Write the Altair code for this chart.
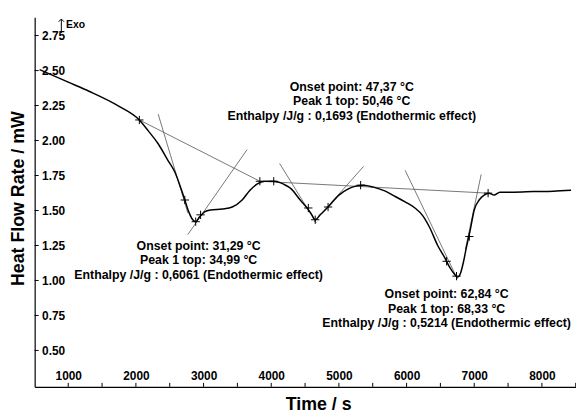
import altair as alt
import pandas as pd

# ---- DSC curve (Time / s, Heat flow / mW) ----
time_s = [577, 1000, 1307, 1745, 2051, 2183, 2329, 2475, 2577, 2664, 2723, 2781, 2840, 2884,
          2942, 3015, 3102, 3278, 3424, 3570, 3686, 3789, 3905, 4037, 4183, 4300, 4416, 4519,
          4592, 4650, 4723, 4840, 5000, 5132, 5249, 5365, 5511, 5687, 5833, 5979, 6124, 6241,
          6343, 6460, 6562, 6636, 6709, 6753, 6797, 6840, 6884, 6942, 7000, 7073, 7146, 7219,
          7292, 7380, 7584, 7876, 8168, 8431]
heat_flow = [2.507, 2.417, 2.352, 2.246, 2.147, 2.069, 1.977, 1.857, 1.773, 1.660, 1.575, 1.490,
             1.434, 1.420, 1.455, 1.490, 1.504, 1.511, 1.525, 1.575, 1.645, 1.688, 1.709, 1.709,
             1.688, 1.653, 1.582, 1.525, 1.476, 1.434, 1.469, 1.525, 1.610, 1.653, 1.674, 1.681,
             1.667, 1.638, 1.600, 1.561, 1.518, 1.462, 1.377, 1.250, 1.165, 1.095, 1.045, 1.024,
             1.052, 1.130, 1.236, 1.363, 1.504, 1.575, 1.610, 1.624, 1.610, 1.631, 1.631, 1.635,
             1.638, 1.645]

# ---- "+" markers of the peak evaluation ----
marker_time = [2051, 2723, 2884, 2956, 3832, 4037, 4548, 4650, 4840, 5321, 6592, 6738, 6928, 7205]
marker_flow = [2.147, 1.575, 1.420, 1.469, 1.709, 1.709, 1.518, 1.434, 1.525, 1.681, 1.137, 1.031, 1.314, 1.624]

# ---- baselines and tangents (start / end points) ----
seg_x1 = [2051, 3832, 2329, 2767, 4124, 4635, 5979, 7103]
seg_y1 = [2.147, 1.709, 2.189, 1.328, 1.836, 1.419, 1.787, 1.758]
seg_x2 = [3832, 7205, 2767, 3643, 4665, 5365, 6752, 6869]
seg_y2 = [1.709, 1.624, 1.483, 1.935, 1.412, 1.815, 1.010, 1.222]

# ---- annotations ----
note_text = ["Onset point: 47,37 °C", "Peak 1 top: 50,46 °C", "Enthalpy /J/g : 0,1693 (Endothermic effect)",
             "Onset point: 31,29 °C", "Peak 1 top: 34,99 °C", "Enthalpy /J/g : 0,6061 (Endothermic effect)",
             "Onset point: 62,84 °C", "Peak 1 top: 68,33 °C", "Enthalpy /J/g : 0,5214 (Endothermic effect)"]
note_x = [5190, 5190, 5190, 2927, 2927, 2927, 6592, 6592, 6592]
note_y = [2.3835, 2.281, 2.1785, 1.2465, 1.144, 1.0415, 0.9005, 0.798, 0.6955]

# ---- "Exo" arrow ----
exo_t = [898]
exo_low = [2.768]
exo_high = [2.868]
exo_label_t = [968]
exo_label_q = [2.825]

x_ticks = [1000, 2000, 3000, 4000, 5000, 6000, 7000, 8000]
x_minor = [1000, 1500, 2000, 2500, 3000, 3500, 4000, 4500, 5000, 5500, 6000, 6500, 7000, 7500, 8000, 8500]
y_ticks = [0.50, 0.75, 1.00, 1.25, 1.50, 1.75, 2.00, 2.25, 2.50, 2.75]

FONT = "Liberation Sans"
W, H = 548, 374

xs = alt.Scale(domain=[504, 8504], nice=False, zero=False)
ys = alt.Scale(domain=[0.24, 2.88], nice=False, zero=False)

curve_df = pd.DataFrame({"t": time_s, "q": heat_flow})
mark_df = pd.DataFrame({"t": marker_time, "q": marker_flow})
seg_df = pd.DataFrame({"t": seg_x1, "q": seg_y1, "t2": seg_x2, "q2": seg_y2})
note_df = pd.DataFrame({"t": note_x, "q": note_y, "txt": note_text})
xt_df = pd.DataFrame({"t": x_minor})
yt_df = pd.DataFrame({"q": y_ticks})
arrow_df = pd.DataFrame({"t": exo_t, "q": exo_low, "q2": exo_high})
exo_df = pd.DataFrame({"t": exo_label_t, "q": exo_label_q, "txt": ["Exo"]})

x_axis = alt.Axis(values=x_ticks, format="d", ticks=False, grid=False,
                  labelFont=FONT, labelFontSize=12, labelFontWeight="bold", labelColor="black",
                  labelPadding=-7, labelBaseline="alphabetic",
                  domainColor="black", domainWidth=1.2,
                  title="Time / s", titleFont=FONT, titleFontSize=18, titleFontWeight="bold",
                  titleColor="black", titleX=287, titleY=23, titleBaseline="alphabetic")
y_axis = alt.Axis(values=y_ticks, format=".2f", ticks=False, grid=False,
                  labelFont=FONT, labelFontSize=12, labelFontWeight="bold", labelColor="black",
                  labelAlign="left", labelBaseline="middle", labelPadding=-7,
                  domainColor="black", domainWidth=1.2,
                  title="Heat Flow Rate / mW", titleFont=FONT, titleFontSize=18,
                  titleFontWeight="bold", titleColor="black", titleX=-16, titleY=183,
                  titleAlign="center", titleBaseline="middle", titleAngle=270)

curve = alt.Chart(curve_df).mark_line(color="black", strokeWidth=1.5, interpolate="monotone").encode(
    x=alt.X("t:Q", scale=xs, axis=x_axis),
    y=alt.Y("q:Q", scale=ys, axis=y_axis),
)

segs = alt.Chart(seg_df).mark_rule(color="#555555", strokeWidth=0.8).encode(
    x=alt.X("t:Q", scale=xs), y=alt.Y("q:Q", scale=ys), x2="t2:Q", y2="q2:Q")

plus = alt.Chart(mark_df).mark_point(shape="M-1,0L1,0M0,-1L0,1", size=70, filled=False,
                                     color="black", strokeWidth=1, opacity=1).encode(
    x=alt.X("t:Q", scale=xs), y=alt.Y("q:Q", scale=ys))

notes = alt.Chart(note_df).mark_text(font=FONT, fontSize=12.5, fontWeight="bold", color="black",
                                     align="center", baseline="middle").encode(
    x=alt.X("t:Q", scale=xs), y=alt.Y("q:Q", scale=ys), text="txt:N")

arrow_shaft = alt.Chart(arrow_df).mark_rule(color="black", strokeWidth=1).encode(
    x=alt.X("t:Q", scale=xs), y=alt.Y("q:Q", scale=ys), y2="q2:Q")
arrow_head = alt.Chart(arrow_df).mark_point(shape="M-1,1L0,0L1,1", size=30, filled=False,
                                            color="black", strokeWidth=1, opacity=1).encode(
    x=alt.X("t:Q", scale=xs), y=alt.Y("q2:Q", scale=ys))

exo = alt.Chart(exo_df).mark_text(font=FONT, fontSize=10.5, fontWeight="bold", color="black",
                                  align="left", baseline="middle").encode(
    x=alt.X("t:Q", scale=xs), y=alt.Y("q:Q", scale=ys), text="txt:N")

xtick = alt.Chart(xt_df).mark_rule(color="black", strokeWidth=1).encode(
    x=alt.X("t:Q", scale=xs), y=alt.value(H - 4), y2=alt.value(H))

ytick = alt.Chart(yt_df).mark_rule(color="black", strokeWidth=1).encode(
    y=alt.Y("q:Q", scale=ys), x=alt.value(0), x2=alt.value(4))

chart = alt.layer(segs, curve, plus, notes, arrow_shaft, arrow_head, exo, xtick, ytick).properties(
    width=W, height=H,
    autosize=alt.AutoSizeParams(type="none"),
    padding={"left": 27, "top": 7, "right": 0, "bottom": 24},
    background="white",
).configure_view(stroke=None)

chart.save("out.html", embed_options={"renderer": "svg", "actions": False})
